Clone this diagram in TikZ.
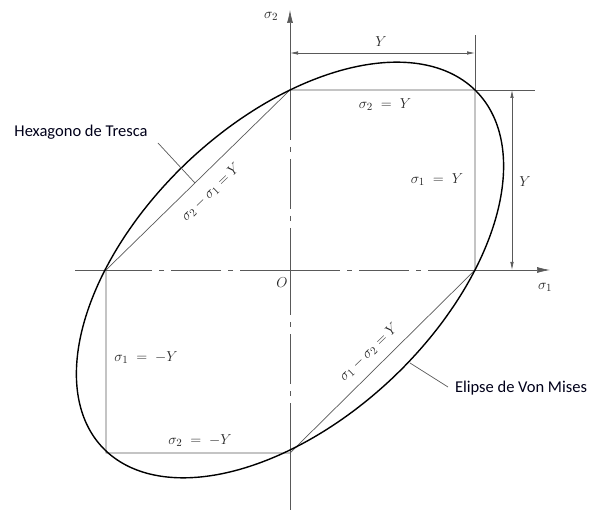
\documentclass[tikz,border=0pt]{standalone}
\usepackage{fontspec}
\newfontfamily\calib{Carlito}
\usetikzlibrary{arrows.meta}
\begin{document}
\begin{tikzpicture}[x=1pt,y=-1pt,
  thinline/.style={draw=black!65, line width=0.7pt},
  dashdotline/.style={thinline, dash pattern=on 50pt off 7pt on 5pt off 7pt},
  vm/.style={draw=black, line width=1.4pt},
  mathlbl/.style={font=\fontsize{15.5}{17}\selectfont, text=black!85, inner sep=0.5pt},
  sanslbl/.style={font=\calib\fontsize{16.5}{18}\selectfont, text=black!90!blue, inner sep=1pt},
  dimarrow/.style={thinline, {Latex[length=8pt,width=3.5pt]}-{Latex[length=8pt,width=3.5pt]}},
  axisarrow/.style={thinline, -{Latex[length=13pt,width=6pt]}},
]
\useasboundingbox (0,0) rectangle (590,510);
% key points
\coordinate (O) at (290,270);
\coordinate (A) at (475,270);
\coordinate (B) at (475,90);
\coordinate (C) at (290,90);
\coordinate (D) at (106,270);
\coordinate (E) at (106,453);
\coordinate (F) at (290,453);
\coordinate (s1tip) at (550,270);
\coordinate (s2tip) at (290,10);
\coordinate (hleft) at (75,270);
\coordinate (vbot) at (290,510);
% axes
\draw[thinline] (hleft) -- (D);
\draw[dashdotline] (O) -- (D);
\draw[dashdotline] (O) -- (A);
\draw[axisarrow] (A) -- (s1tip);
\draw[axisarrow] (C) -- (s2tip);
\draw[dashdotline] (C) -- (O);
\draw[dashdotline] (F) -- (O);
\draw[thinline] (F) -- (vbot);
% Tresca hexagon
\draw[thinline] (A) -- (B) -- (C) -- (D) -- (E) -- (F) -- cycle;
% extension lines and dimensions
\coordinate (extR) at (535,90);
\coordinate (extT) at (475,35);
\draw[thinline] (B) -- (extR);
\draw[thinline] (B) -- (extT);
\coordinate (dh1) at (290,53);
\coordinate (dh2) at (475,53);
\coordinate (dv1) at (512,90);
\coordinate (dv2) at (512,270);
\draw[dimarrow] (dh1) -- (dh2);
\draw[dimarrow] (dv1) -- (dv2);
% Von Mises ellipse
\draw[vm] plot[domain=0:358, samples=180, smooth cycle]
  ({290+185*(cos(\x)+sin(\x)/sqrt(3))},{270-180*(cos(\x)-sin(\x)/sqrt(3))});
% leaders
\coordinate (tl1) at (158,143);
\coordinate (tl2) at (195,183);
\coordinate (vl1) at (410,363);
\coordinate (vl2) at (448,387);
\draw[thinline] (tl1) -- (tl2);
\draw[thinline] (vl1) -- (vl2);
% labels
\node[mathlbl] (lY1) at (381,42) {$Y$};
\node[mathlbl] (lY2) at (525,182) {$Y$};
\node[mathlbl] (ls2Y) at (385,105) {$\sigma_2 \;=\; Y$};
\node[mathlbl] (ls1Y) at (437,180) {$\sigma_1 \;=\; Y$};
\node[mathlbl] (ls1mY) at (146,358) {$\sigma_1 \;=\; -Y$};
\node[mathlbl] (ls2mY) at (200,441) {$\sigma_2 \;=\; -Y$};
\node[mathlbl, rotate=44] (ltr1) at (211,192) {$\sigma_2 - \sigma_1 = Y$};
\node[mathlbl, rotate=44] (ltr2) at (369,352) {$\sigma_1 - \sigma_2 = Y$};
\node[mathlbl] (lO) at (282,283) {$O$};
\node[mathlbl] (ls1) at (545,287) {$\sigma_1$};
\node[mathlbl] (ls2) at (271,16) {$\sigma_2$};
\node[sanslbl] (ltresca) at (81,132) {Hexagono de Tresca};
\node[sanslbl] (lvm) at (521,388) {Elipse de Von Mises};
\end{tikzpicture}
\end{document}
